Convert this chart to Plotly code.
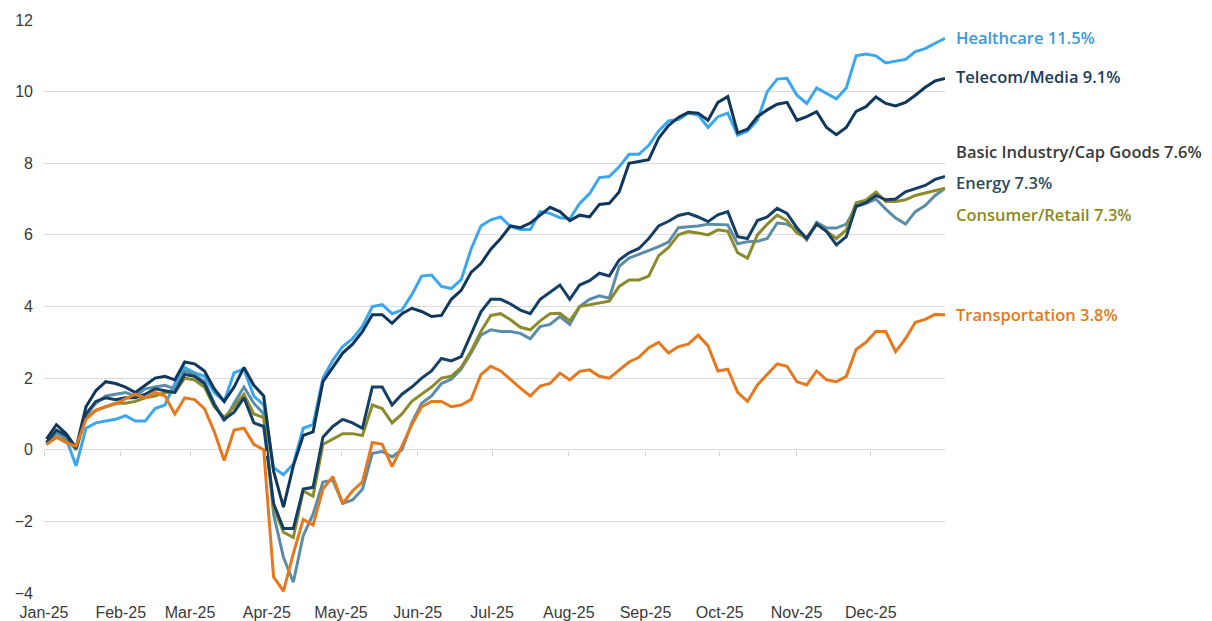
import pandas as pd
import plotly.graph_objects as go

# Data: cumulative total return (%) by sector, 2025
dates = pd.date_range("2025-01-02", "2025-12-31", periods=92)

healthcare = [0.15, 0.5, 0.3, -0.45, 0.6, 0.75, 0.8, 0.85, 0.95, 0.8,
              0.8, 1.15, 1.25, 1.85, 2.3, 2.15, 2.05, 1.6, 1.35, 2.15,
              2.25, 1.5, 1.25, -0.5, -0.7, -0.4, 0.6, 0.7, 2.0, 2.5,
              2.88, 3.1, 3.45, 4.0, 4.05, 3.8, 3.9, 4.33, 4.85, 4.88,
              4.56, 4.5, 4.75, 5.6, 6.25, 6.42, 6.5, 6.23, 6.15, 6.15,
              6.65, 6.6, 6.48, 6.45, 6.88, 7.15, 7.6, 7.63, 7.9, 8.25,
              8.25, 8.5, 8.9, 9.18, 9.22, 9.4, 9.35, 9.0, 9.3, 9.4,
              8.78, 8.9, 9.2, 10.0, 10.35, 10.37, 9.9, 9.67, 10.1, 9.95,
              9.8, 10.1, 11.0, 11.05, 11.0, 10.8, 10.85, 10.9, 11.12, 11.2,
              11.35, 11.49]

telecom = [0.3, 0.7, 0.45, 0.05, 1.2, 1.65, 1.9, 1.85, 1.75, 1.6,
           1.8, 2.0, 2.05, 1.95, 2.45, 2.4, 2.2, 1.7, 1.35, 1.75,
           2.3, 1.8, 1.5, -0.6, -1.6, -0.45, 0.4, 0.5, 1.9, 2.3,
           2.7, 2.95, 3.3, 3.77, 3.77, 3.53, 3.8, 3.95, 3.86, 3.72,
           3.75, 4.2, 4.45, 4.95, 5.2, 5.6, 5.9, 6.25, 6.2, 6.33,
           6.55, 6.77, 6.65, 6.4, 6.55, 6.5, 6.85, 6.88, 7.2, 8.0,
           8.05, 8.1, 8.7, 9.05, 9.28, 9.42, 9.4, 9.2, 9.7, 9.86,
           8.85, 8.95, 9.3, 9.49, 9.65, 9.7, 9.2, 9.3, 9.44, 9.0,
           8.8, 9.0, 9.45, 9.58, 9.85, 9.67, 9.6, 9.7, 9.9, 10.12,
           10.3, 10.37]

basic_industry = [0.2, 0.55, 0.4, 0.05, 1.0, 1.35, 1.45, 1.4, 1.45, 1.45,
                  1.55, 1.7, 1.65, 1.6, 2.1, 2.05, 1.85, 1.25, 0.85, 1.05,
                  1.45, 0.75, 0.65, -1.5, -2.2, -2.2, -1.1, -1.05, 0.35, 0.65,
                  0.85, 0.75, 0.6, 1.75, 1.75, 1.25, 1.55, 1.75, 2.0, 2.2,
                  2.55, 2.48, 2.6, 3.2, 3.85, 4.2, 4.2, 4.07, 3.9, 3.8,
                  4.2, 4.4, 4.6, 4.2, 4.6, 4.72, 4.93, 4.85, 5.3, 5.5,
                  5.62, 5.9, 6.25, 6.38, 6.54, 6.6, 6.5, 6.37, 6.56, 6.65,
                  5.95, 5.9, 6.4, 6.5, 6.74, 6.6, 6.2, 5.9, 6.3, 6.1,
                  5.72, 5.95, 6.8, 6.9, 7.1, 6.98, 7.0, 7.2, 7.3, 7.38,
                  7.55, 7.63]

energy = [0.2, 0.45, 0.35, 0.0, 0.95, 1.3, 1.5, 1.55, 1.6, 1.5,
          1.7, 1.75, 1.8, 1.7, 2.2, 2.1, 1.9, 1.3, 0.8, 1.3,
          1.75, 1.3, 1.0, -1.8, -3.0, -3.7, -2.4, -1.8, -0.9, -0.85,
          -1.5, -1.4, -1.1, -0.1, -0.05, -0.2, 0.0, 0.75, 1.3, 1.5,
          1.85, 1.97, 2.25, 2.7, 3.2, 3.35, 3.3, 3.3, 3.25, 3.1,
          3.44, 3.5, 3.72, 3.5, 4.0, 4.2, 4.3, 4.23, 5.12, 5.35,
          5.45, 5.55, 5.67, 5.8, 6.2, 6.23, 6.25, 6.3, 6.3, 6.28,
          5.75, 5.81, 5.82, 5.9, 6.33, 6.3, 6.15, 5.86, 6.35, 6.19,
          6.19, 6.3, 6.79, 6.88, 7.0, 6.72, 6.47, 6.3, 6.65, 6.82,
          7.1, 7.3]

consumer = [0.15, 0.35, 0.25, 0.05, 0.9, 1.1, 1.2, 1.3, 1.3, 1.35,
            1.45, 1.5, 1.6, 1.6, 2.0, 1.95, 1.75, 1.2, 0.9, 1.2,
            1.55, 1.0, 0.9, -1.6, -2.3, -2.45, -1.15, -1.3, 0.15, 0.3,
            0.45, 0.45, 0.4, 1.25, 1.15, 0.75, 1.0, 1.35, 1.55, 1.75,
            2.0, 2.05, 2.3, 2.75, 3.3, 3.75, 3.8, 3.63, 3.42, 3.35,
            3.6, 3.8, 3.81, 3.6, 4.0, 4.05, 4.09, 4.15, 4.56, 4.74,
            4.74, 4.85, 5.42, 5.65, 6.0, 6.09, 6.05, 6.0, 6.14, 6.1,
            5.5, 5.35, 6.0, 6.3, 6.55, 6.4, 6.05, 5.92, 6.3, 6.1,
            5.9, 6.14, 6.9, 6.97, 7.2, 6.93, 6.93, 6.98, 7.1, 7.17,
            7.24, 7.3]

transportation = [0.15, 0.35, 0.2, 0.1, 0.85, 1.1, 1.2, 1.28, 1.42, 1.55,
                  1.45, 1.6, 1.5, 1.0, 1.45, 1.4, 1.15, 0.5, -0.3, 0.55,
                  0.6, 0.15, 0.0, -3.55, -3.95, -2.9, -1.95, -2.1, -1.1, -0.75,
                  -1.5, -1.15, -0.9, 0.2, 0.15, -0.47, 0.1, 0.7, 1.2, 1.35,
                  1.35, 1.2, 1.25, 1.4, 2.1, 2.33, 2.2, 1.95, 1.72, 1.5,
                  1.78, 1.85, 2.14, 1.95, 2.19, 2.23, 2.05, 2.0, 2.23, 2.45,
                  2.58, 2.85, 3.0, 2.7, 2.88, 2.95, 3.2, 2.9, 2.2, 2.25,
                  1.6, 1.35, 1.81, 2.1, 2.4, 2.33, 1.9, 1.81, 2.2, 1.95,
                  1.9, 2.05, 2.8, 3.0, 3.3, 3.3, 2.74, 3.1, 3.56, 3.64,
                  3.78, 3.77]

names = ["Healthcare", "Telecom/Media", "Basic Industry/Cap Goods",
         "Energy", "Consumer/Retail", "Transportation"]
ytd_returns = ["11.5%", "9.1%", "7.6%", "7.3%", "7.3%", "3.8%"]
values = [healthcare, telecom, basic_industry, energy, consumer, transportation]

# Styling
line_colors = ["#3BA7EF", "#0F375C", "#163F66", "#5B8DA8", "#8C8B2C", "#E6781E"]
label_colors = ["#3A9BDC", "#1B3C5C", "#3A3A3A", "#2D4B5B", "#8A8A20", "#E07A1C"]
label_y = [11.5, 10.42, 8.32, 7.46, 6.56, 3.77]
draw_order = [0, 3, 4, 2, 1, 5]

fig = go.Figure()

for i in draw_order:
    fig.add_trace(go.Scatter(
        x=dates, y=values[i],
        mode="lines",
        name=names[i],
        line=dict(color=line_colors[i], width=3),
        showlegend=False))

# invisible trace so the axis ticks at y=0 get drawn
fig.add_trace(go.Scatter(x=[dates[0]], y=[None], xaxis="x2",
                         showlegend=False, hoverinfo="skip"))

for i, name in enumerate(names):
    fig.add_annotation(
        x=dates[-1], y=label_y[i], xref="x", yref="y",
        text=f"{name} {ytd_returns[i]}",
        showarrow=False, xanchor="left", yanchor="middle", xshift=9,
        font=dict(family="Open Sans", size=16.5, color=label_colors[i], weight=600))

tick_font = dict(family="Liberation Sans", size=16, color="#3a3a3a")

# page body adds an 8px offset, margins account for it
fig.update_layout(
    width=1212, height=621,
    margin=dict(l=36, r=275, t=12, b=36),
    paper_bgcolor="white", plot_bgcolor="white",
    xaxis=dict(
        type="date", range=["2025-01-01", "2025-12-31"],
        tick0="2025-01-01", dtick="M1", tickformat="%b-%y",
        showgrid=False, zeroline=False, showline=False, ticks="",
        tickfont=tick_font, automargin=False, ticklabelstandoff=8),
    xaxis2=dict(
        type="date", range=["2025-01-01", "2025-12-31"],
        tick0="2025-01-01", dtick="M1",
        overlaying="x", anchor="free", position=0.25,
        showticklabels=False, showgrid=False, zeroline=False, showline=False,
        ticks="outside", ticklen=5, tickcolor="#cfcfcf", tickwidth=1),
    yaxis=dict(
        range=[-4, 12], dtick=2, tick0=0,
        showgrid=True, gridcolor="#dadada", gridwidth=1,
        zeroline=False, showline=False, ticks="",
        tickfont=tick_font, automargin=False, ticklabelstandoff=10),
)

fig.write_html("out.html")
